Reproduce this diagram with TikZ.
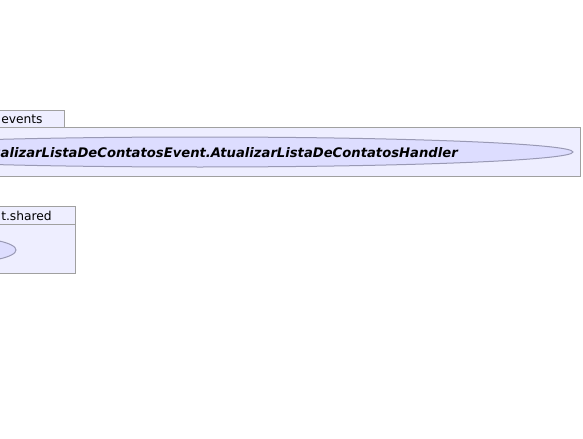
\documentclass[tikz,border=0pt]{standalone}
\usepackage{fontspec}
\setmainfont{DejaVu Sans}
\definecolor{pkgfill}{HTML}{EEEEFF}
\definecolor{pkgline}{HTML}{A0A0A0}
\definecolor{ucfill}{HTML}{DDDDFF}
\definecolor{ucline}{HTML}{9999B4}
\begin{document}
\begin{tikzpicture}[x=0.75pt,y=-0.75pt,
  pkg/.style={draw=pkgline,fill=pkgfill,line width=0.75pt},
  uc/.style={draw=ucline,fill=ucfill,line width=0.75pt},
  lbl/.style={inner sep=0pt,font=\fontsize{9.2pt}{11pt}\selectfont}]
\useasboundingbox (0,0) rectangle (583,439);
\clip (0,0) rectangle (583,439);
% package events
\draw[pkg] (-20,110) rectangle (64,127);
\draw[pkg] (-20,127) rectangle (580,176);
\node[lbl,anchor=base west] (t1) at (1,123) {events};
\draw[uc] (200,152) ellipse [x radius=373, y radius=15];
\node[lbl,anchor=base east,font=\fontsize{9.87pt}{12pt}\selectfont\bfseries\itshape] (h1) at (458,157) {AtualizarListaDeContatosEvent.AtualizarListaDeContatosHandler};
% package shared
\draw[pkg] (-20,206) rectangle (75,224);
\draw[pkg] (-20,224) rectangle (75,273);
\node[lbl,anchor=base west] (t2) at (1,220) {t.shared};
\draw[uc] (-44,250) ellipse [x radius=60, y radius=13];
\end{tikzpicture}
\end{document}
